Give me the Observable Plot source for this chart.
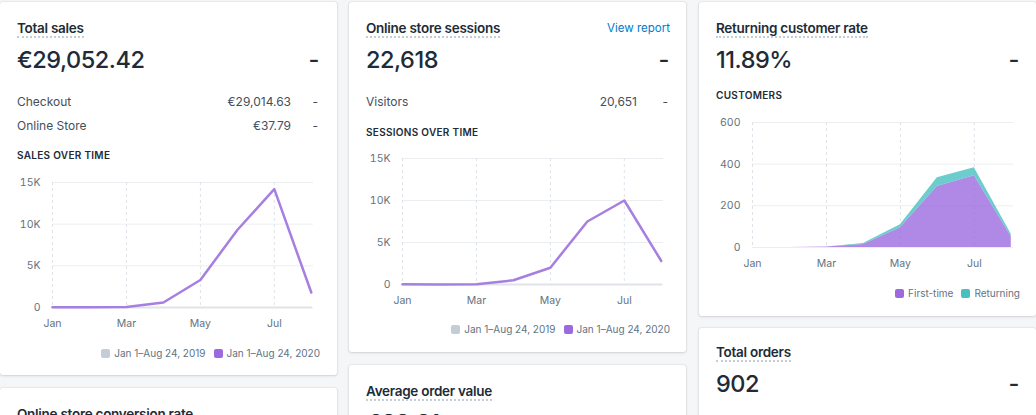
<!DOCTYPE html>
<html><head><meta charset="utf-8">
<script src="https://cdn.jsdelivr.net/npm/d3@7"></script>
<script src="https://cdn.jsdelivr.net/npm/@observablehq/plot@0.6"></script>
<style>
html,body{margin:0;padding:0;background:#f4f6f8;width:1036px;height:415px;overflow:hidden;font-family:Inter,"Noto Sans",sans-serif;}
.card{position:absolute;background:#fff;border-radius:3px;box-shadow:0 0 0 1px rgba(63,63,68,0.05),0 1px 3px 0 rgba(63,63,68,0.15);}
.t{position:absolute;white-space:nowrap;line-height:1;}
.title{font-weight:600;color:#212b36;border-bottom:2px dotted #c4cdd5;letter-spacing:-0.02em;}
.big{font-weight:500;color:#212b36;letter-spacing:-0.02em;}
.row{color:#454f5b;}
.caps{font-weight:600;color:#212b36;letter-spacing:0.03em;text-transform:uppercase;}
.link{color:#007ace;}
.chart{position:absolute;}
.legend{position:absolute;display:flex;align-items:center;font-size:10px;color:#637381;line-height:1;white-space:nowrap;}
.legend .sw{width:9px;height:9px;border-radius:2px;margin-right:4px;}
.legend .it{display:flex;align-items:center;margin-left:8px;}
</style>
</head><body>
<script>
// ---- data ----
const months = ["Jan","Feb","Mar","Apr","May","Jun","Jul","Aug"];
const monthTicks = ["Jan","Mar","May","Jul"];
const sales2019 = [0,0,0,0,0,0,0,0];
const sales2020 = [30,20,50,600,3300,9300,14200,1800];
const sessions2019 = [0,0,0,0,0,0,0,0];
const sessions2020 = [20,10,40,500,2000,7500,10000,2800];
const firstTime = [0,0,2,15,95,293,345,52];
const returning = [0,0,1,4,14,42,38,12];
const thousandTicks = [0,5000,10000,15000];
const customerTicks = [0,200,400,600];
const periodLabels = ["Jan 1–Aug 24, 2019","Jan 1–Aug 24, 2020"];
const customerSeries = ["First-time","Returning"];

const C = {grid:"#ebeef0", vgrid:"#dfe3e8", tick:"#637381", old:"#dfe3e8", line:"#a67fe0",
           purple:"#9c6ade", teal:"#47c1bf", gray:"#c4cdd5"};

// ---- helpers ----
const body = document.body;
function card(x,y,w,h){const d=document.createElement("div");d.className="card";
  Object.assign(d.style,{left:x+"px",top:y+"px",width:w+"px",height:h+"px"});body.appendChild(d);}
function txt(str,x,base,size,cls,align){
  const s=document.createElement("div");s.className="t "+cls;s.textContent=str;
  s.style.fontSize=size+"px";s.style.top=(base-0.863*size)+"px";
  if(align==="right"){s.style.right=(1036-x)+"px";}else{s.style.left=x+"px";}
  body.appendChild(s);return s;}
function legend(right,centerY,labels,colors){
  const d=document.createElement("div");d.className="legend";
  d.style.right=(1036-right)+"px";d.style.top=(centerY-6)+"px";d.style.height="12px";
  labels.forEach((l,k)=>{const it=document.createElement("div");it.className="it";
    const sw=document.createElement("div");sw.className="sw";sw.style.background=colors[k];
    const tx=document.createElement("span");tx.textContent=l;it.appendChild(sw);it.appendChild(tx);d.appendChild(it);});
  body.appendChild(d);}
function place(svg,x,y){const w=document.createElement("div");w.className="chart";w.style.left=x+"px";w.style.top=y+"px";w.appendChild(svg);body.appendChild(w);}

const tickIdx = monthTicks.map(m=>months.indexOf(m));
const kfmt = d => d===0 ? "0" : (d/1000)+"K";
const styleObj = {fontFamily:"Inter, sans-serif", fontSize:"10.5px", color:C.tick, background:"transparent", overflow:"visible"};

function lineChart(a,b,ml,mr,h){
  const d19 = months.map((m,i)=>({i, v:a[i]}));
  const d20 = months.map((m,i)=>({i, v:b[i]}));
  return Plot.plot({
    width:337, height:h, marginTop:12, marginBottom:30, marginLeft:ml, marginRight:mr,
    style:styleObj,
    x:{type:"linear", domain:[0,7.06], label:null},
    y:{domain:[0,15000], label:null},
    marks:[
      Plot.gridY(thousandTicks,{stroke:C.grid,strokeOpacity:1}),
      Plot.gridX(tickIdx,{stroke:C.vgrid,strokeOpacity:1,strokeDasharray:"3,3"}),
      Plot.axisY(thousandTicks,{tickSize:0,tickPadding:12,tickFormat:kfmt,fill:C.tick,label:null}),
      Plot.axisX(tickIdx,{tickSize:0,tickPadding:12,tickFormat:i=>months[i],fill:C.tick,label:null}),
      Plot.line(d19,{x:"i",y:"v",stroke:C.old,strokeWidth:2}),
      Plot.line(d20,{x:"i",y:"v",stroke:C.line,strokeWidth:2.5,strokeLinejoin:"round"})
    ]
  });
}
function areaChart(){
  const data = months.flatMap((m,i)=>[{i,series:customerSeries[0],v:firstTime[i]},{i,series:customerSeries[1],v:returning[i]}]);
  return Plot.plot({
    width:337, height:167, marginTop:12, marginBottom:30, marginLeft:53, marginRight:23,
    style:styleObj,
    x:{type:"linear", domain:[0,7.06], label:null},
    y:{domain:[0,600], label:null},
    color:{domain:customerSeries, range:[C.purple,C.teal]},
    marks:[
      Plot.gridY(customerTicks,{stroke:C.grid,strokeOpacity:1}),
      Plot.gridX(tickIdx,{stroke:C.vgrid,strokeOpacity:1,strokeDasharray:"3,3"}),
      Plot.axisY(customerTicks,{tickSize:0,tickPadding:12,fill:C.tick,label:null}),
      Plot.axisX(tickIdx,{tickSize:0,tickPadding:12,tickFormat:i=>months[i],fill:C.tick,label:null}),
      Plot.areaY(data,{x:"i",y:"v",fill:"series",order:customerSeries,fillOpacity:0.8})
    ]
  });
}

// ---- cards ----
card(0,2,337,373); card(0,388,337,100);
card(349,2,337,350); card(349,365,337,100);
card(699,2,337,314); card(699,328,337,100);

// card 1
txt("Total sales",17,34,13.5,"title");
txt("€29,052.42",17,68,23.5,"big");
txt("-",319,68,23.5,"big","right");
txt("Checkout",17,106,12,"row");
txt("€29,014.63",291,106,12,"row","right");
txt("-",318,106,12,"row","right");
txt("Online Store",17,130,12,"row");
txt("€37.79",291,130,12,"row","right");
txt("-",318,130,12,"row","right");
txt("Sales over time",17,159,10,"caps");
place(lineChart(sales2019,sales2020,52,24,167),0,170);
legend(320,353,periodLabels,[C.gray,C.purple]);

// card 2
txt("Online store sessions",366,34,13.5,"title");
txt("View report",670,33,11.5,"link","right");
txt("22,618",366,68,23.5,"big");
txt("-",669,68,23.5,"big","right");
txt("Visitors",366,106,12,"row");
txt("20,651",637,106,12,"row","right");
txt("-",668,106,12,"row","right");
txt("Sessions over time",366,136,10,"caps");
place(lineChart(sessions2019,sessions2020,53,23,168),349,146);
legend(670,329,periodLabels,[C.gray,C.purple]);

// card 3
txt("Returning customer rate",716,34,13.5,"title");
txt("11.89%",716,68,23.5,"big");
txt("-",1019,68,23.5,"big","right");
txt("Customers",716,99,10,"caps");
place(areaChart(),699,110);
legend(1020,293,customerSeries,[C.purple,C.teal]);

// card 4
txt("Total orders",716,358,13.5,"title");
txt("902",716,392,23.5,"big");
txt("-",1019,392,23.5,"big","right");

// bottom cards
txt("Online store conversion rate",17,420,13.5,"title");
txt("Average order value",366,397,13.5,"title");
txt("€32.21",366,431,23.5,"big");
</script>
</body></html>
